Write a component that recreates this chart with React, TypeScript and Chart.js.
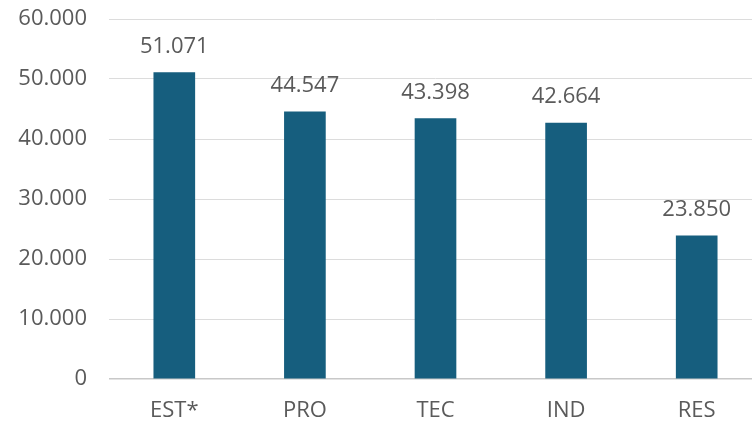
import React, { useEffect, useRef } from "react";
import { Chart, registerables } from "chart.js";

Chart.register(...registerables);

const categories = ["EST*", "PRO", "TEC", "IND", "RES"];
const values = [51071, 44547, 43398, 42664, 23850];
const yMin = 0;
const yMax = 60000;
const yStep = 10000;

const fmt = (v: number) => {
  const s = Math.round(v).toString();
  return s.replace(/\B(?=(\d{3})+(?!\d))/g, ".");
};

const FONT = "'Open Sans', sans-serif";
const TEXT = "#5a5a5a";

const valueLabels = {
  id: "valueLabels",
  afterDatasetsDraw(chart: any) {
    const ctx = chart.ctx;
    const meta = chart.getDatasetMeta(0);
    ctx.save();
    ctx.font = `22px ${FONT}`;
    ctx.fillStyle = TEXT;
    ctx.textAlign = "center";
    ctx.textBaseline = "alphabetic";
    meta.data.forEach((bar: any, i: number) => {
      ctx.fillText(fmt(values[i]), bar.x, bar.y - 20);
    });
    ctx.restore();
  },
};

export default function App() {
  const ref = useRef<HTMLCanvasElement>(null);
  useEffect(() => {
    if (!ref.current) return;
    const chart = new Chart(ref.current, {
      type: "bar",
      data: {
        labels: categories,
        datasets: [
          {
            data: values,
            backgroundColor: "#165E7E",
            barThickness: 41,
          },
        ],
      },
      options: {
        animation: false,
        responsive: false,
        maintainAspectRatio: false,
        layout: { padding: { top: 19, right: 0, bottom: 0, left: 0 } },
        plugins: { legend: { display: false }, tooltip: { enabled: false } },
        scales: {
          x: {
            grid: { display: false, drawTicks: false },
            border: { display: false },
            ticks: {
              color: TEXT,
              font: { family: FONT, size: 22 },
              padding: 19,
            },
            afterFit: (s: any) => {
              s.height = 46;
              s.paddingLeft = 0;
              s.paddingRight = 0;
            },
          },
          y: {
            min: yMin,
            max: yMax,
            grid: {
              color: (c: any) => (c.tick && c.tick.value === 0 ? "#c8c8c8" : "#dcdcdc"),
              lineWidth: (c: any) => (c.tick && c.tick.value === 0 ? 1.5 : 1),
              drawTicks: false,
            },
            border: { display: false },
            ticks: {
              stepSize: yStep,
              color: TEXT,
              font: { family: FONT, size: 22 },
              padding: 22,
              callback: (v: any) => fmt(Number(v)),
            },
            afterFit: (s: any) => {
              s.width = 109;
              s.paddingTop = 0;
              s.paddingBottom = 0;
            },
          },
        },
      },
      plugins: [valueLabels],
    });
    return () => chart.destroy();
  }, []);
  return (
    <div
      style={{
        position: "fixed",
        left: 0,
        top: 0,
        width: 752,
        height: 425,
        overflow: "hidden",
        background: "#fff",
      }}
    >
      <canvas ref={ref} width={762} height={425} style={{ display: "block" }} />
    </div>
  );
}
